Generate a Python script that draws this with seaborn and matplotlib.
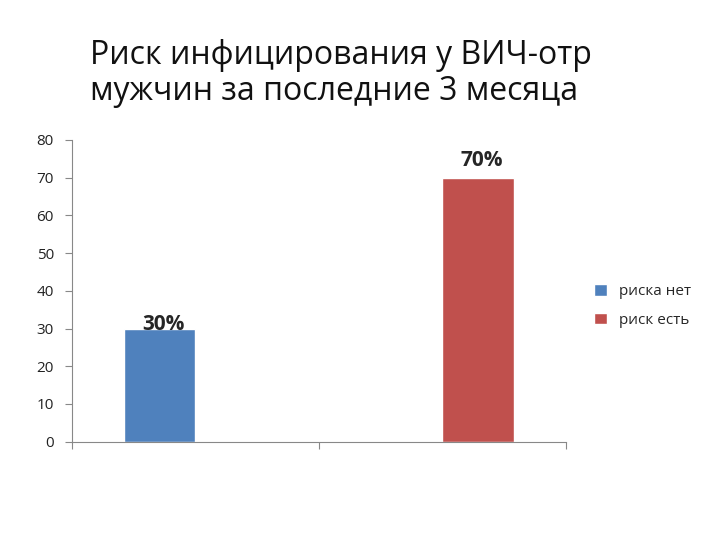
import matplotlib
matplotlib.use("Agg")
import matplotlib.pyplot as plt
import seaborn as sns
import pandas as pd

categories = ["1", "2"]
series = ["риска нет", "риск есть"]
values = [[30, 0], [0, 70]]  # values[series][category]
labels = ["30%", "70%"]
colors = ["#4F81BD", "#C0504D"]

rows = []
for s, name in enumerate(series):
    for c, cat in enumerate(categories):
        rows.append({"cat": cat, "series": name, "value": values[s][c]})
df = pd.DataFrame(rows)

sns.set_style("white")
plt.rcParams["font.family"] = ["Open Sans", "DejaVu Sans"]

fig = plt.figure(figsize=(7.2, 5.4), dpi=100)
ax = fig.add_axes([0.1, 0.182, 0.686, 0.559])
sns.barplot(data=df, x="cat", y="value", hue="series", palette=colors,
            width=0.58, dodge=True, ax=ax, legend=True, saturation=1)

ax.set_xlim(-0.5, 1.5)
ax.set_ylim(0, 80)
ax.set_yticks(range(0, 81, 10))
ax.set_xticks([-0.5, 0.5, 1.5])
ax.set_xticklabels([])
ax.set_xlabel("")
ax.set_ylabel("")
ax.tick_params(axis="both", length=5, color="#888888", labelsize=11, direction="out",
               left=True, bottom=True, labelcolor="#222222")
ax.tick_params(axis="y", pad=8)
for side in ["top", "right"]:
    ax.spines[side].set_visible(False)
for side in ["left", "bottom"]:
    ax.spines[side].set_color("#888888")

# value labels
ax.text(-0.13, 31, labels[0], ha="center", va="center", fontsize=15, fontweight="bold")
ax.text(1.16, 74.5, labels[1], ha="center", va="center", fontsize=15, fontweight="bold")

ax.legend(loc="center left", bbox_to_anchor=(1.03, 0.45), frameon=False,
          fontsize=11, handlelength=0.8, handleheight=0.8, labelspacing=0.9)

fig.text(0.125, 0.8, "Риск инфицирования у ВИЧ-отр\nмужчин за последние 3 месяца",
         fontsize=23, ha="left", va="bottom", linespacing=1.1, color="#111111")

fig.savefig("out.png", dpi=100)
